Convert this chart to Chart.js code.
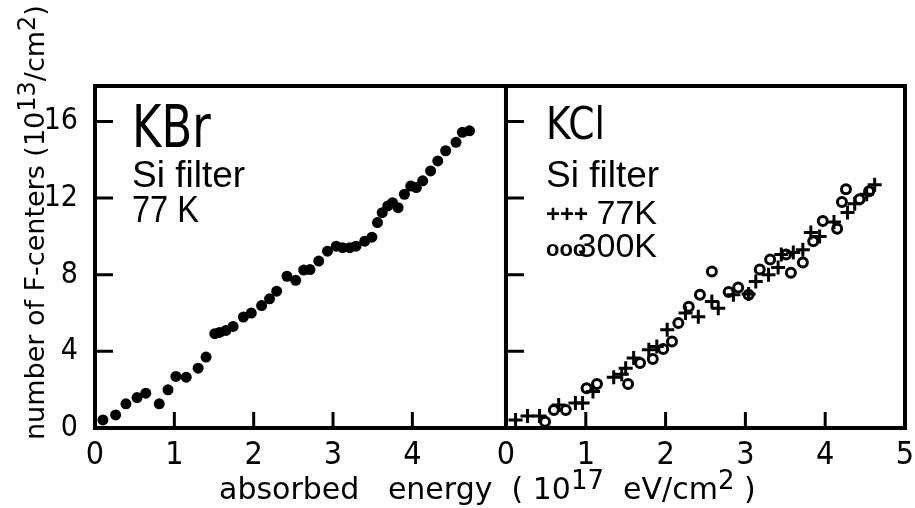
<!DOCTYPE html>
<html>
<head>
<meta charset="utf-8">
<script src="https://cdn.jsdelivr.net/npm/chart.js@4.4.1/dist/chart.umd.min.js"></script>
<style>
  html, body { margin: 0; padding: 0; background: #fff; }
  #wrap { position: relative; width: 915px; height: 508px; }
</style>
</head>
<body>
<div id="wrap"><canvas id="chart" width="915" height="508"></canvas></div>
<script>
// values (energy in 1e17 eV/cm2, F-centers in 1e13/cm2)
const kbrEnergy = [0.10, 0.26, 0.39, 0.53, 0.64, 0.81, 0.92, 1.02, 1.15, 1.30, 1.40, 1.51, 1.57, 1.65, 1.74,
  1.87, 1.97, 2.10, 2.20, 2.29, 2.42, 2.53, 2.63, 2.71, 2.82, 2.93, 3.04, 3.12, 3.21, 3.29, 3.40, 3.49,
  3.56, 3.62, 3.69, 3.75, 3.82, 3.90, 3.98, 4.05, 4.13, 4.23, 4.32, 4.42, 4.55, 4.63, 4.72];
const kbrCenters = [0.42, 0.68, 1.26, 1.59, 1.82, 1.26, 1.99, 2.69, 2.65, 3.12, 3.70, 4.92, 4.99, 5.09, 5.30,
  5.79, 6.00, 6.39, 6.74, 7.14, 7.92, 7.71, 8.24, 8.27, 8.71, 9.23, 9.49, 9.41, 9.41, 9.49, 9.75, 9.96,
  10.72, 11.24, 11.59, 11.76, 11.50, 12.20, 12.63, 12.55, 12.90, 13.42, 13.94, 14.47, 14.91, 15.43, 15.51];

const kcl77Energy = [0.12, 0.27, 0.42, 0.66, 0.87, 0.96, 1.09, 1.35, 1.45, 1.50, 1.60, 1.79, 1.89, 2.02, 2.25,
  2.41, 2.58, 2.66, 2.85, 3.04, 3.13, 3.29, 3.41, 3.45, 3.60, 3.72, 3.82, 3.93, 4.11, 4.28, 4.37, 4.52, 4.62];
const kcl77Centers = [0.42, 0.62, 0.62, 1.20, 1.30, 1.30, 1.90, 2.65, 2.80, 3.12, 3.65, 4.08, 4.25, 5.13, 6.00,
  5.80, 6.60, 6.25, 6.96, 7.00, 7.64, 8.00, 8.38, 9.06, 9.16, 9.30, 10.20, 10.00, 10.75, 11.25, 11.70, 12.20, 12.70];

const kcl300Energy = [0.49, 0.60, 0.75, 1.01, 1.14, 1.53, 1.68, 1.84, 1.97, 2.08, 2.16, 2.29, 2.43, 2.58, 2.79,
  2.91, 3.04, 3.18, 3.31, 3.51, 3.57, 3.72, 3.85, 3.97, 4.15, 4.21, 4.26, 4.43, 4.55];
const kcl300Centers = [0.33, 0.94, 0.94, 2.08, 2.30, 2.30, 3.39, 3.60, 4.12, 4.52, 5.48, 6.33, 6.96, 8.17, 7.10,
  7.33, 6.96, 8.27, 8.80, 9.06, 8.10, 8.64, 9.75, 10.80, 10.40, 11.80, 12.46, 11.94, 12.36];

const yTicks = [0, 4, 8, 12, 16];
const xTicksLeft = [0, 1, 2, 3, 4];
const xTicksRight = [0, 1, 2, 3, 4, 5];

const narrow = "'Liberation Sans Narrow', 'DejaVu Sans Condensed', 'Liberation Sans', sans-serif";
const plain = "'Liberation Sans', Arial, sans-serif";
const wide = "'DejaVu Sans', sans-serif";

function toPoints(xs, ys) {
  return xs.map((x, i) => ({ x: x, y: ys[i] }));
}

function fixBox(size) {
  return (scale) => {
    if (scale.isHorizontal()) {
      scale.height = size;
    } else {
      scale.width = size;
    }
    scale.paddingLeft = 0;
    scale.paddingRight = 0;
    scale.paddingTop = 0;
    scale.paddingBottom = 0;
  };
}

// write text with raised parts: parts = [[text, raised], ...]
function drawRich(ctx, parts, x, y, font, supFont, rise) {
  let cx = x;
  for (const [text, raised] of parts) {
    ctx.font = raised ? supFont : font;
    ctx.fillText(text, cx, raised ? y - rise : y);
    cx += ctx.measureText(text).width;
  }
}

// squeezed text, the lettering on the plate is narrow
function drawSqueezed(ctx, text, x, y, font, squeeze) {
  ctx.save();
  ctx.font = font;
  ctx.translate(x, y);
  ctx.scale(squeeze, 1);
  ctx.fillText(text, 0, 0);
  ctx.restore();
}

const paperFrame = {
  id: "paperFrame",
  beforeDatasetsDraw(chart) {
    const { ctx, chartArea, scales } = chart;
    const { xL, xR, y } = scales;
    const top = chartArea.top;
    const bottom = chartArea.bottom;

    ctx.save();
    ctx.strokeStyle = "#000";
    ctx.lineWidth = 4;
    ctx.strokeRect(xL.left, top, xL.right - xL.left, bottom - top);
    ctx.strokeRect(xR.left, top, xR.right - xR.left, bottom - top);

    // ticks point into the panels
    ctx.lineWidth = 3;
    ctx.beginPath();
    for (const v of yTicks) {
      if (v === 0) continue;
      const py = y.getPixelForValue(v);
      for (const left of [xL.left, xR.left]) {
        ctx.moveTo(left, py);
        ctx.lineTo(left + 18, py);
      }
    }
    for (const v of xTicksLeft) {
      if (v === 0) continue;
      const px = xL.getPixelForValue(v);
      ctx.moveTo(px, bottom);
      ctx.lineTo(px, bottom - 16);
    }
    for (const v of xTicksRight) {
      if (v === 0 || v === 5) continue;
      const px = xR.getPixelForValue(v);
      ctx.moveTo(px, bottom);
      ctx.lineTo(px, bottom - 16);
    }
    ctx.stroke();
    ctx.restore();
  },
  afterDraw(chart) {
    const { ctx, scales } = chart;
    const { xL, xR } = scales;
    ctx.save();
    ctx.fillStyle = "#000";
    ctx.textAlign = "left";
    ctx.textBaseline = "alphabetic";

    // left panel labels
    drawSqueezed(ctx, "KBr", xL.left + 37, 147, "58px " + narrow, 0.86);
    ctx.font = "37px " + plain;
    ctx.fillText("Si filter", xL.left + 37, 187);
    drawSqueezed(ctx, "77 K", xL.left + 37, 222, "37px " + plain, 0.88);

    // right panel labels
    drawSqueezed(ctx, "KCl", xR.left + 40, 139, "44px " + narrow, 0.95);
    ctx.font = "37px " + plain;
    ctx.fillText("Si filter", xR.left + 40, 187);
    ctx.font = "bold 24px " + plain;
    ctx.fillText("+++", xR.left + 40, 222);
    ctx.font = "bold 22px " + plain;
    ctx.fillText("ooo", xR.left + 40, 256);
    ctx.font = "34px " + plain;
    ctx.textAlign = "right";
    ctx.fillText("77K", xR.left + 151, 224);
    ctx.fillText("300K", xR.left + 151, 257);
    ctx.textAlign = "left";

    // axis titles
    drawRich(ctx, [["absorbed   energy  ( 10", false], ["17", true], ["  eV/cm", false], ["2", true], [" )", false]],
      219, 499, "30px " + wide, "26px " + wide, 10);

    ctx.translate(44, 440);
    ctx.rotate(-Math.PI / 2);
    drawRich(ctx, [["number of F-centers (10", false], ["13", true], ["/cm", false], ["2", true], [")", false]],
      0, 0, "27px " + wide, "24px " + wide, 9);
    ctx.restore();
  }
};

new Chart(document.getElementById("chart"), {
  type: "scatter",
  data: {
    datasets: [
      {
        label: "KBr 77 K",
        data: toPoints(kbrEnergy, kbrCenters),
        xAxisID: "xL",
        yAxisID: "y",
        pointStyle: "circle",
        pointRadius: 5.5,
        backgroundColor: "#000",
        borderColor: "#000",
        borderWidth: 0
      },
      {
        label: "KCl 77 K",
        data: toPoints(kcl77Energy, kcl77Centers),
        xAxisID: "xR",
        yAxisID: "y",
        pointStyle: "cross",
        pointRadius: 7,
        backgroundColor: "#000",
        borderColor: "#000",
        borderWidth: 3
      },
      {
        label: "KCl 300 K",
        data: toPoints(kcl300Energy, kcl300Centers),
        xAxisID: "xR",
        yAxisID: "y",
        pointStyle: "circle",
        pointRadius: 4.5,
        backgroundColor: "#fff",
        borderColor: "#000",
        borderWidth: 3
      }
    ]
  },
  options: {
    responsive: false,
    animation: false,
    devicePixelRatio: 1,
    layout: { padding: { left: 0, right: 8, top: 86, bottom: 40 } },
    plugins: { legend: { display: false }, tooltip: { enabled: false } },
    scales: {
      xL: {
        type: "linear",
        position: "bottom",
        stack: "energy",
        stackWeight: 412,
        min: 0,
        max: 5.18,
        grid: { display: false, drawTicks: false },
        border: { display: false },
        afterBuildTicks: (scale) => { scale.ticks = xTicksLeft.map((v) => ({ value: v })); },
        afterFit: fixBox(40),
        ticks: { color: "#000", padding: 8, maxRotation: 0, font: { family: narrow, size: 32 } }
      },
      xR: {
        type: "linear",
        position: "bottom",
        stack: "energy",
        stackWeight: 400,
        min: 0,
        max: 5,
        grid: { display: false, drawTicks: false },
        border: { display: false },
        afterBuildTicks: (scale) => { scale.ticks = xTicksRight.map((v) => ({ value: v })); },
        afterFit: fixBox(40),
        ticks: { color: "#000", padding: 8, maxRotation: 0, font: { family: narrow, size: 32 } }
      },
      y: {
        type: "linear",
        position: "left",
        min: 0,
        max: 17.85,
        grid: { display: false, drawTicks: false },
        border: { display: false },
        afterBuildTicks: (scale) => { scale.ticks = yTicks.map((v) => ({ value: v })); },
        afterFit: fixBox(95),
        ticks: { color: "#000", padding: 17, font: { family: narrow, size: 30 } }
      }
    }
  },
  plugins: [paperFrame]
});
</script>
</body>
</html>
